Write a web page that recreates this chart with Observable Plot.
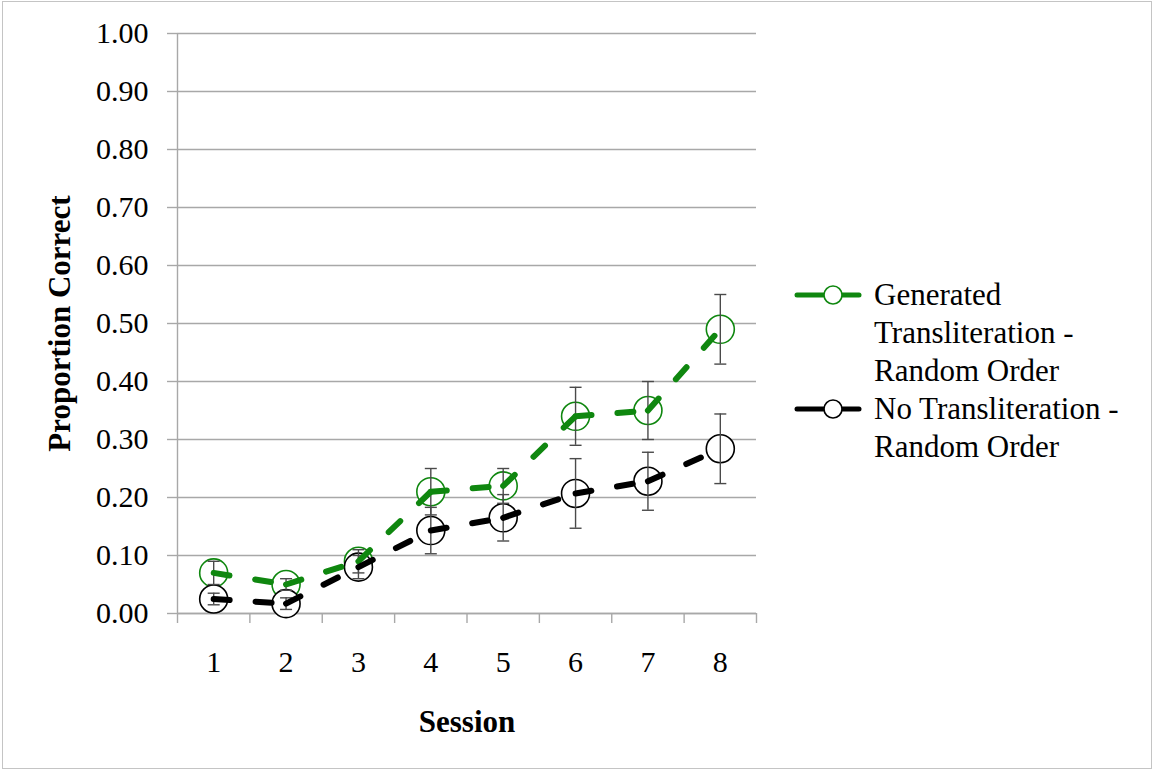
<!DOCTYPE html>
<html>
<head>
<meta charset="utf-8">
<script src="https://cdn.jsdelivr.net/npm/d3@7"></script>
<script src="https://cdn.jsdelivr.net/npm/@observablehq/plot@0.6"></script>
<style>
  html, body { margin: 0; padding: 0; background: #fff; }
  #wrap { position: relative; width: 1154px; height: 771px; overflow: hidden; font-family: "Liberation Serif", "Times New Roman", serif; }
  #border { position: absolute; left: 2px; top: 1px; right: 2px; bottom: 2px; border: 1.5px solid #c4c4c4; pointer-events: none; }
  #chart { position: absolute; left: 0; top: 0; }
  #legend { position: absolute; left: 794px; top: 276px; font-size: 31px; line-height: 38px; color: #000; }
  .item { display: flex; align-items: flex-start; }
  .item svg { flex: none; margin-top: 9px; }
  .item span { display: block; width: 265px; margin-left: 12px; }
</style>
</head>
<body>
<div id="wrap">
  <div id="chart"></div>
  <div id="legend"></div>
  <div id="border"></div>
</div>
<script>
const sessions = [1, 2, 3, 4, 5, 6, 7, 8];
const seriesNames = ["Generated Transliteration - Random Order", "No Transliteration - Random Order"];
const seriesColors = ["#0f870f", "#000000"];
const generated = [0.07, 0.05, 0.09, 0.21, 0.22, 0.34, 0.35, 0.49];
const generatedErr = [0.02, 0.01, 0.02, 0.04, 0.03, 0.05, 0.05, 0.06];
const noTranslit = [0.025, 0.017, 0.08, 0.143, 0.165, 0.207, 0.228, 0.284];
const noTranslitErr = [0.01, 0.01, 0.02, 0.04, 0.04, 0.06, 0.05, 0.06];
const yTicks = [0, 0.1, 0.2, 0.3, 0.4, 0.5, 0.6, 0.7, 0.8, 0.9, 1.0];
const xTitle = "Session";
const yTitle = "Proportion Correct";

const seriesValues = [generated, noTranslit];
const seriesErrs = [generatedErr, noTranslitErr];

const points = [];
seriesNames.forEach((name, k) => {
  sessions.forEach((s, i) => {
    points.push({series: name, x: s, y: seriesValues[k][i], e: seriesErrs[k][i]});
  });
});

// each segment between consecutive points drawn separately (dash pattern restarts at each point)
const segments = [];
seriesNames.forEach((name, k) => {
  for (let i = 0; i < sessions.length - 1; i++) {
    const id = name + "-" + i;
    segments.push({series: name, seg: id, x: sessions[i], y: seriesValues[k][i]});
    segments.push({series: name, seg: id, x: sessions[i + 1], y: seriesValues[k][i + 1]});
  }
});

const xDomain = [sessions[0] - 0.5, sessions[sessions.length - 1] + 0.5];
const bandEdges = sessions.map(s => s - 0.5).concat([xDomain[1]]);

const capSymbol = {
  draw(context, size) {
    const r = Math.sqrt(size / Math.PI);
    context.moveTo(-r, 0);
    context.lineTo(r, 0);
  }
};

const colorScale = {domain: seriesNames, range: seriesColors};
const gridColor = "#a8a8a8";
const errColor = "#4a4a4a";

const chart = Plot.plot({
  width: 1154,
  height: 771,
  marginLeft: 177,
  marginRight: 398,
  marginTop: 33,
  marginBottom: 158,
  style: {fontFamily: "'Liberation Serif', 'Times New Roman', serif", fontSize: "30px", color: "#000", background: "transparent"},
  x: {type: "linear", domain: xDomain},
  y: {domain: [0, 1]},
  color: colorScale,
  marks: [
    Plot.gridY(yTicks, {stroke: gridColor, strokeOpacity: 1, strokeWidth: 1.4}),
    Plot.ruleX([xDomain[0]], {stroke: gridColor, strokeWidth: 1.4}),
    Plot.ruleY([0], {stroke: gridColor, strokeWidth: 1.4}),
    Plot.axisY(yTicks, {tickFormat: d3.format(".2f"), tickSize: 10, tickPadding: 19, stroke: gridColor, strokeWidth: 1.4, fontSize: 30, label: null, fill: "#000"}),
    Plot.axisX(bandEdges, {tickFormat: () => "", tickSize: 10, stroke: gridColor, strokeWidth: 1.4, label: null}),
    Plot.axisX(sessions, {tickSize: 0, tickPadding: 37, fontSize: 30, label: null, fill: "#000"}),
    Plot.text([yTitle], {frameAnchor: "left", rotate: -90, dx: -117, textAnchor: "middle", lineAnchor: "middle", fontWeight: "bold", fontSize: 31, fill: "#000"}),
    Plot.text([xTitle], {frameAnchor: "bottom", dy: 109, textAnchor: "middle", lineAnchor: "middle", fontWeight: "bold", fontSize: 31, fill: "#000"}),
    Plot.dot(points, {x: "x", y: "y", r: 14, stroke: "series", fill: "white", strokeWidth: 1.6}),
    Plot.ruleX(points, {x: "x", y1: d => d.y - d.e, y2: d => d.y + d.e, stroke: errColor, strokeWidth: 1.4}),
    Plot.dot(points, {x: "x", y: d => d.y - d.e, symbol: capSymbol, r: 6, stroke: errColor, strokeWidth: 1.4}),
    Plot.dot(points, {x: "x", y: d => d.y + d.e, symbol: capSymbol, r: 6, stroke: errColor, strokeWidth: 1.4}),
    Plot.line(segments, {x: "x", y: "y", z: "seg", stroke: "series", strokeWidth: 6, strokeDasharray: "16,26", strokeLinecap: "round"})
  ]
});
document.getElementById("chart").appendChild(chart);

// legend
const legend = document.getElementById("legend");
seriesNames.forEach((name, k) => {
  const item = document.createElement("div");
  item.className = "item";
  const c = seriesColors[k];
  item.innerHTML = `<svg width="68" height="20" viewBox="0 0 68 20">
      <line x1="3" y1="10" x2="65" y2="10" stroke="${c}" stroke-width="5" stroke-linecap="round"/>
      <circle cx="39" cy="10" r="9" fill="white" stroke="${c}" stroke-width="1.6"/>
    </svg><span>${name}</span>`;
  legend.appendChild(item);
});
</script>
</body>
</html>
